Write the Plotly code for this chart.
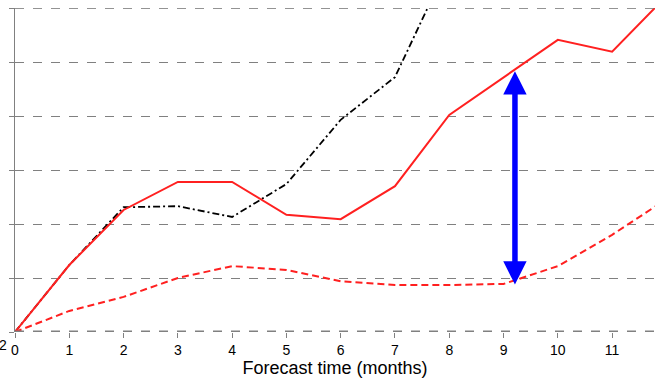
import plotly.graph_objects as go

months = list(range(0, 13))
black_dashdot = [0, 1.24, 2.31, 2.33, 2.13, 2.74, 3.93, 4.72, 6.85, None, None, None, None]
red_solid = [0, 1.24, 2.26, 2.78, 2.78, 2.17, 2.09, 2.70, 4.02, 4.72, 5.41, 5.19, 6.22]
red_dashed = [0, 0.39, 0.65, 1.00, 1.22, 1.15, 0.94, 0.87, 0.87, 0.89, 1.22, 1.80, 2.46]
arrow_x = 9.21
arrow_top = 4.83
arrow_bottom = 0.85
x_ticks = list(range(0, 12))

fig = go.Figure()
fig.add_trace(go.Scatter(x=months, y=black_dashdot, mode="lines",
                         line=dict(color="black", width=1.8, dash="7px,3px,2px,3px")))
fig.add_trace(go.Scatter(x=months, y=red_dashed, mode="lines",
                         line=dict(color="#ff2020", width=2, dash="7px,4px")))
fig.add_trace(go.Scatter(x=months, y=red_solid, mode="lines",
                         line=dict(color="#ff2020", width=2)))

fig.add_annotation(x=arrow_x, y=arrow_top, ax=arrow_x, ay=arrow_bottom,
                   xref="x", yref="y", axref="x", ayref="y",
                   showarrow=True, arrowhead=2, arrowside="end+start",
                   arrowsize=0.85, arrowwidth=5.5, arrowcolor="#0000ff",
                   standoff=0, startstandoff=0, text="")

fig.add_annotation(x=-0.019, y=-0.04, xref="paper", yref="paper", text="2",
                   showarrow=False, xanchor="center", yanchor="middle",
                   font=dict(size=14, color="black"))

# bottom axis dashed thick line and top dashed line
fig.add_shape(type="line", xref="paper", yref="y", x0=0, x1=1, y0=0, y1=0,
              line=dict(color="#808080", width=3, dash="dash"))
fig.add_shape(type="line", xref="paper", yref="y", x0=0, x1=1, y0=6, y1=6,
              line=dict(color="#707070", width=1.5, dash="dash"))

fig.update_layout(
    width=655, height=379,
    margin=dict(l=15, r=0, t=8, b=47),
    plot_bgcolor="white", paper_bgcolor="white",
    showlegend=False,
    font=dict(family="Liberation Sans, Arial, sans-serif", color="black"),
)
fig.update_xaxes(range=[0, 11.79], tickvals=x_ticks, ticktext=[str(t) for t in x_ticks],
                 showgrid=False, zeroline=False, showline=False,
                 ticks="outside", ticklen=5, tickcolor="#808080",
                 tickfont=dict(size=14),
                 title=dict(text="Forecast time (months)", font=dict(size=18), standoff=0))
fig.update_yaxes(range=[0, 6], tickvals=[0, 1, 2, 3, 4, 5, 6], showticklabels=False,
                 showgrid=True, gridcolor="#808080", griddash="dash", gridwidth=1,
                 zeroline=False, showline=True, linecolor="#808080", linewidth=1,
                 ticks="outside", ticklen=5, tickcolor="#808080")

fig.write_html("out.html", config={"displayModeBar": False},
               post_script="document.body.style.margin='0';")
